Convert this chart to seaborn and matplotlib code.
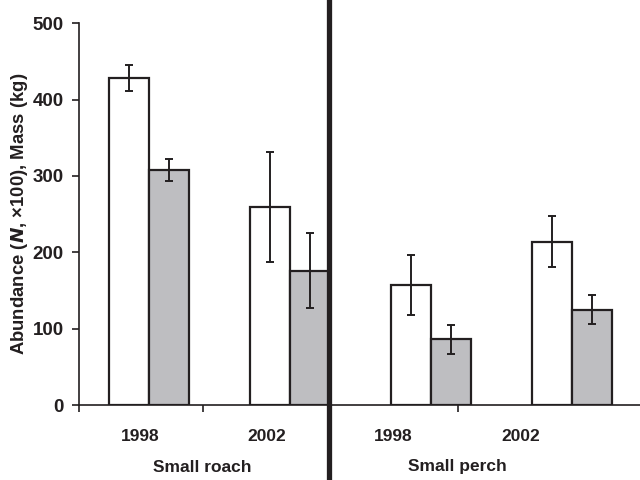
import matplotlib
matplotlib.use("Agg")
import matplotlib.pyplot as plt
import matplotlib.transforms as mtransforms
import seaborn as sns
import pandas as pd
import numpy as np

# ---- data ----
groups = ["Roach 1998", "Roach 2002", "Perch 1998", "Perch 2002"]
year_labels = ["1998", "2002", "1998", "2002"]
species_labels = ["Small roach", "Small perch"]
measures = ["Abundance", "Mass"]
abundance = [428, 259, 157, 214]
abundance_err = [17, 72, 39, 33]
mass = [308, 176, 86, 125]
mass_err = [14, 49, 19, 19]

df = pd.DataFrame({
    "group": groups * 2,
    "measure": [measures[0]] * 4 + [measures[1]] * 4,
    "value": abundance + mass,
    "err": abundance_err + mass_err,
})

sns.set_style("ticks")
plt.rcParams["font.family"] = ["Liberation Sans", "DejaVu Sans"]
text_color = "#231f20"

fig = plt.figure(figsize=(6.4, 4.8), dpi=100)
ax = fig.add_axes([79 / 640, 75 / 480, 1 - 79 / 640, (405 - 23.3) / 480])

sns.barplot(data=df, x="group", y="value", hue="measure", order=groups,
            hue_order=measures, palette=["white", "#bdbec1"], width=0.57,
            errorbar=None, edgecolor="#231f20", linewidth=1.6, legend=False,
            ax=ax, zorder=2)

# error bars from data, placed at bar centres
for patch_container, meas in zip(ax.containers, measures):
    sub = df[df["measure"] == meas].set_index("group").loc[groups]
    xs = [p.get_x() + p.get_width() / 2 for p in patch_container.patches]
    ax.errorbar(xs, sub["value"].values, yerr=sub["err"].values, fmt="none",
                ecolor="#231f20", elinewidth=1.4, capsize=3, capthick=1.4,
                zorder=3)

px = 141.0  # pixels per category
def xd(pix):
    return (pix - 149) / px

ax.set_xlim(xd(79), xd(640))
ax.set_ylim(0, 500)
ax.set_yticks([0, 100, 200, 300, 400, 500])
ax.tick_params(axis="y", length=5, width=1.2, pad=6, labelsize=13.5,
               colors=text_color)
for lab in ax.get_yticklabels():
    lab.set_fontweight("bold")

# major ticks (boundaries), minor tick labels (years)
ax.set_xticks([xd(79), xd(203), xd(458)])
ax.set_xticklabels(["", "", ""])
ax.set_xticks([xd(140), xd(267), xd(393), xd(521)], minor=True)
ax.set_xticklabels(year_labels, minor=True, fontsize=12.5, fontweight="bold",
                   color=text_color)
ax.tick_params(axis="x", which="major", length=5, width=1.2, colors=text_color)
ax.tick_params(axis="x", which="minor", length=0, pad=17)

ax.set_xlabel("")
ax.set_ylabel("Abundance ($\\bfit{N}$, \u00d7100), Mass (kg)", fontsize=13.3,
              fontweight="bold", color=text_color, labelpad=2)

sns.despine(ax=ax)
for s in ["left", "bottom"]:
    ax.spines[s].set_linewidth(1.2)
    ax.spines[s].set_color(text_color)

# species labels
trans = mtransforms.blended_transform_factory(ax.transData, ax.transAxes)
yg = (405 - 467) / 381.7
for lab, pix in zip(species_labels, [202, 457]):
    ax.text(xd(pix), yg, lab, transform=trans, ha="center", va="center",
            fontsize=12.5, fontweight="bold", color=text_color)

# thick divider across full figure height
ax.axvline(xd(329), ymin=-0.25, ymax=1.1, clip_on=False, color="#231f20",
           lw=3.8, zorder=5)

fig.savefig("out.png", dpi=100)
